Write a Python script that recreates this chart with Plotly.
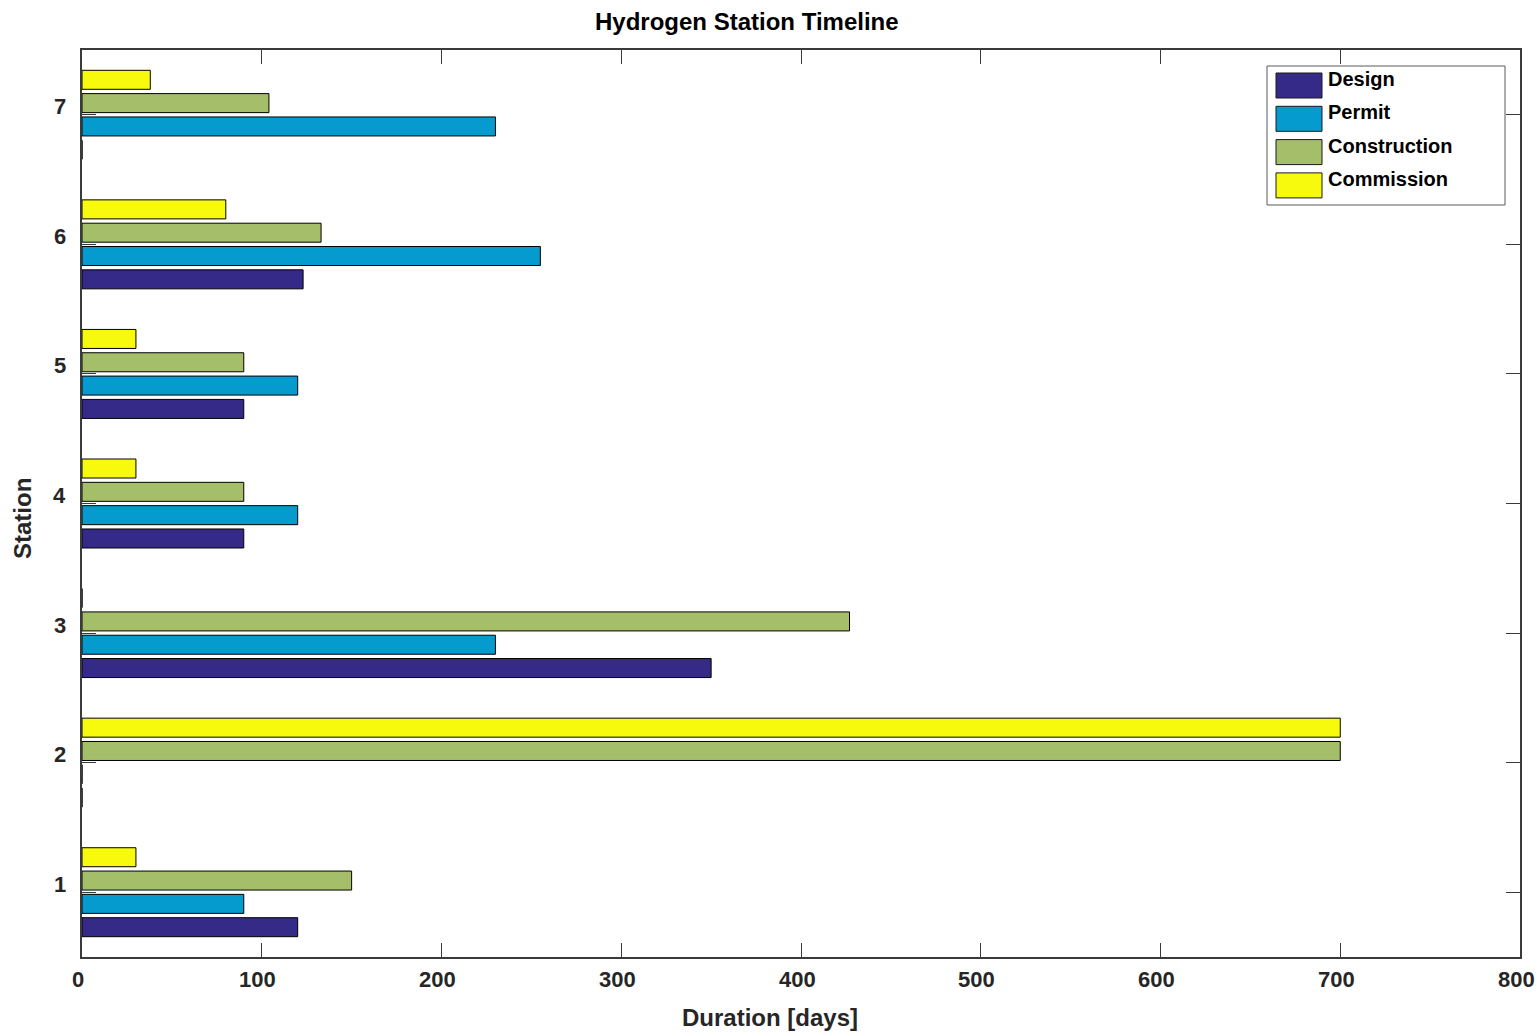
import plotly.graph_objects as go

stations = [1, 2, 3, 4, 5, 6, 7]
series_names = ["Design", "Permit", "Construction", "Commission"]
design = [120, 0, 350, 90, 90, 123, 0]
permit = [90, 0, 230, 120, 120, 255, 230]
construction = [150, 700, 427, 90, 90, 133, 104]
commission = [30, 700, 0, 30, 30, 80, 38]
colors = ["#352A87", "#069BCF", "#A5BE6A", "#F8FA0D"]
x_ticks = [0, 100, 200, 300, 400, 500, 600, 700, 800]

values = [design, permit, construction, commission]
FONT = "Liberation Sans, Arial, Helvetica, sans-serif"
TXT = "#262626"
AX = "#3a3a3a"

fig = go.Figure()
for name, vals, col in zip(series_names, values, colors):
    fig.add_trace(go.Bar(
        y=stations, x=vals, orientation="h", name=name,
        marker=dict(color=col, line=dict(color="black", width=1)),
        showlegend=False,
    ))

W, H = 1537, 1033
L, R, T, B = 82, 17, 50, 76
pw, ph = W - L - R, H - T - B

def px(x):
    return (x - L) / pw

def py(y):
    return (H - B - y) / ph

shapes = []
annotations = []
# custom legend box
shapes.append(dict(type="rect", xref="paper", yref="paper",
                   x0=px(1267), x1=px(1505), y0=py(205), y1=py(66),
                   line=dict(color="#5a5a5a", width=1), fillcolor="white", layer="above"))
for i, (name, col) in enumerate(zip(series_names, colors)):
    top = 73 + i * 33.3
    shapes.append(dict(type="rect", xref="paper", yref="paper",
                       x0=px(1276), x1=px(1322), y0=py(top + 25), y1=py(top),
                       line=dict(color="#1a1a1a", width=1), fillcolor=col, layer="above"))
    annotations.append(dict(text=name, xref="paper", yref="paper",
                            x=px(1326), y=py(top + 6), xanchor="left", yanchor="middle",
                            showarrow=False,
                            font=dict(family=FONT, size=20, color="black", weight="bold")))

# tick labels (MATLAB-style offsets)
tickfont = dict(family=FONT, size=22, color=TXT, weight="bold")
for v in x_ticks:
    annotations.append(dict(text=str(v), xref="x", yref="paper", x=v, y=py(979),
                            xanchor="center", yanchor="middle", xshift=-4, showarrow=False,
                            font=tickfont))
for s in stations:
    annotations.append(dict(text=str(s), xref="paper", yref="y", x=px(68), y=s,
                            xanchor="right", yanchor="middle", yshift=8, showarrow=False,
                            font=tickfont))

annotations.append(dict(text="Hydrogen Station Timeline", xref="paper", yref="paper",
                        x=px(747), y=py(21), xanchor="center", yanchor="middle", showarrow=False,
                        font=dict(family=FONT, size=24, color="black", weight="bold")))
annotations.append(dict(text="Duration [days]", xref="paper", yref="paper",
                        x=px(770), y=py(1017), xanchor="center", yanchor="middle", showarrow=False,
                        font=dict(family=FONT, size=24, color=TXT, weight="bold")))
annotations.append(dict(text="Station", xref="paper", yref="paper", textangle=-90,
                        x=px(22), y=py(519), xanchor="center", yanchor="middle", showarrow=False,
                        font=dict(family=FONT, size=24, color=TXT, weight="bold")))

fig.update_layout(
    width=W, height=H, autosize=False,
    margin=dict(l=L, r=R, t=T, b=B),
    paper_bgcolor="white", plot_bgcolor="white",
    barmode="group", bargap=0.28, bargroupgap=0.185,
    shapes=shapes, annotations=annotations,
    xaxis=dict(range=[0, 800], tickvals=x_ticks, showticklabels=False,
               showgrid=False, zeroline=False, showline=True, linecolor=AX, linewidth=1.5,
               mirror="ticks", ticks="inside", ticklen=14, tickcolor=AX, tickwidth=1),
    yaxis=dict(range=[0.5, 7.5], tickvals=stations, showticklabels=False,
               showgrid=False, zeroline=False, showline=True, linecolor=AX, linewidth=1.5,
               mirror="ticks", ticks="inside", ticklen=14, tickcolor=AX, tickwidth=1),
)

fig.write_html("out.html",
               config={"responsive": False, "displayModeBar": False},
               post_script="document.body.style.margin='0';document.body.style.overflow='hidden';")
